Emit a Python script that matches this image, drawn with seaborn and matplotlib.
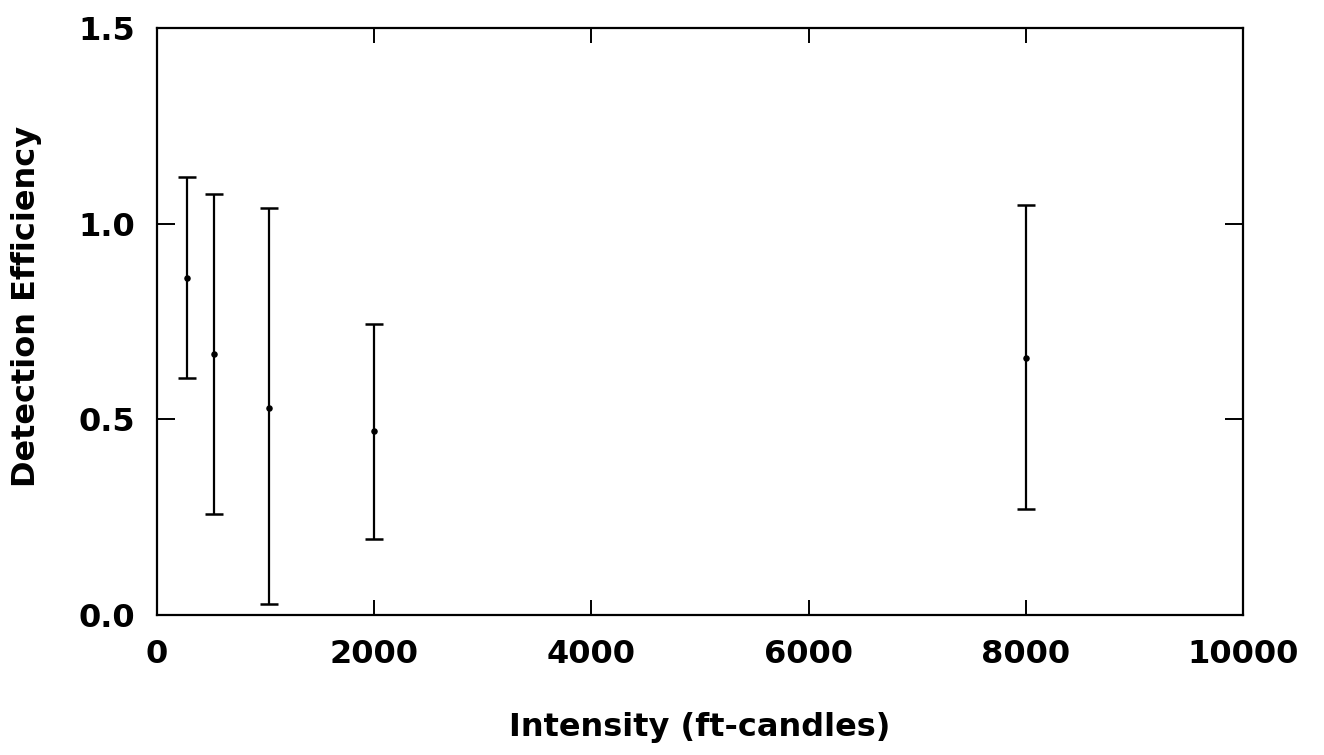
import matplotlib
matplotlib.use("Agg")
import matplotlib.pyplot as plt
import seaborn as sns
import numpy as np
import pandas as pd

# Data
intensity = [275, 525, 1030, 2000, 8000]
efficiency = [0.861, 0.666, 0.530, 0.469, 0.657]
upper = [1.118, 1.076, 1.039, 0.744, 1.048]
lower = [0.606, 0.259, 0.028, 0.193, 0.271]

xticks = [0, 2000, 4000, 6000, 8000, 10000]
yticks = [0.0, 0.5, 1.0, 1.5]

sns.set_style("ticks")
plt.rcParams['font.family'] = ['DejaVu Sans']
plt.rcParams['text.color'] = 'black'
plt.rcParams['axes.labelcolor'] = 'black'

df = pd.DataFrame({"Intensity": intensity, "Efficiency": efficiency})

fig = plt.figure(figsize=(13.24, 7.55), dpi=100)
ax = fig.add_axes([157/1324, 1 - 615/755, (1243 - 157)/1324, (615 - 28)/755])

yerr = np.array([np.array(efficiency) - np.array(lower),
                 np.array(upper) - np.array(efficiency)])
ax.errorbar(intensity, efficiency, yerr=yerr, fmt="none", ecolor="black",
            elinewidth=1.6, capsize=6.5, capthick=1.8)
sns.scatterplot(data=df, x="Intensity", y="Efficiency", ax=ax, color="black",
                s=22, edgecolor="black", linewidth=0)

ax.set_xlim(0, 10000)
ax.set_ylim(0, 1.5)
ax.set_xticks(xticks)
ax.set_xticklabels([f"{v}" for v in xticks])
ax.set_yticks(yticks)
ax.set_yticklabels([f"{v:.1f}" for v in yticks])

for s in ax.spines.values():
    s.set_visible(True)
    s.set_linewidth(1.6)
    s.set_color("black")

ax.tick_params(axis="both", direction="in", length=13, width=1.4,
               top=True, right=True, labelsize=23, colors="black")
ax.tick_params(axis="x", pad=17.5, length=11)
ax.tick_params(axis="y", pad=16)
for lab in ax.get_xticklabels() + ax.get_yticklabels():
    lab.set_fontweight("bold")

ax.set_xlabel("Intensity (ft-candles)", fontsize=23, fontweight="bold",
              labelpad=30, color="black")
ax.set_ylabel("Detection Efficiency", fontsize=23, fontweight="bold",
              labelpad=26, color="black", y=0.525)

fig.savefig("out.png", dpi=100, facecolor="white")
